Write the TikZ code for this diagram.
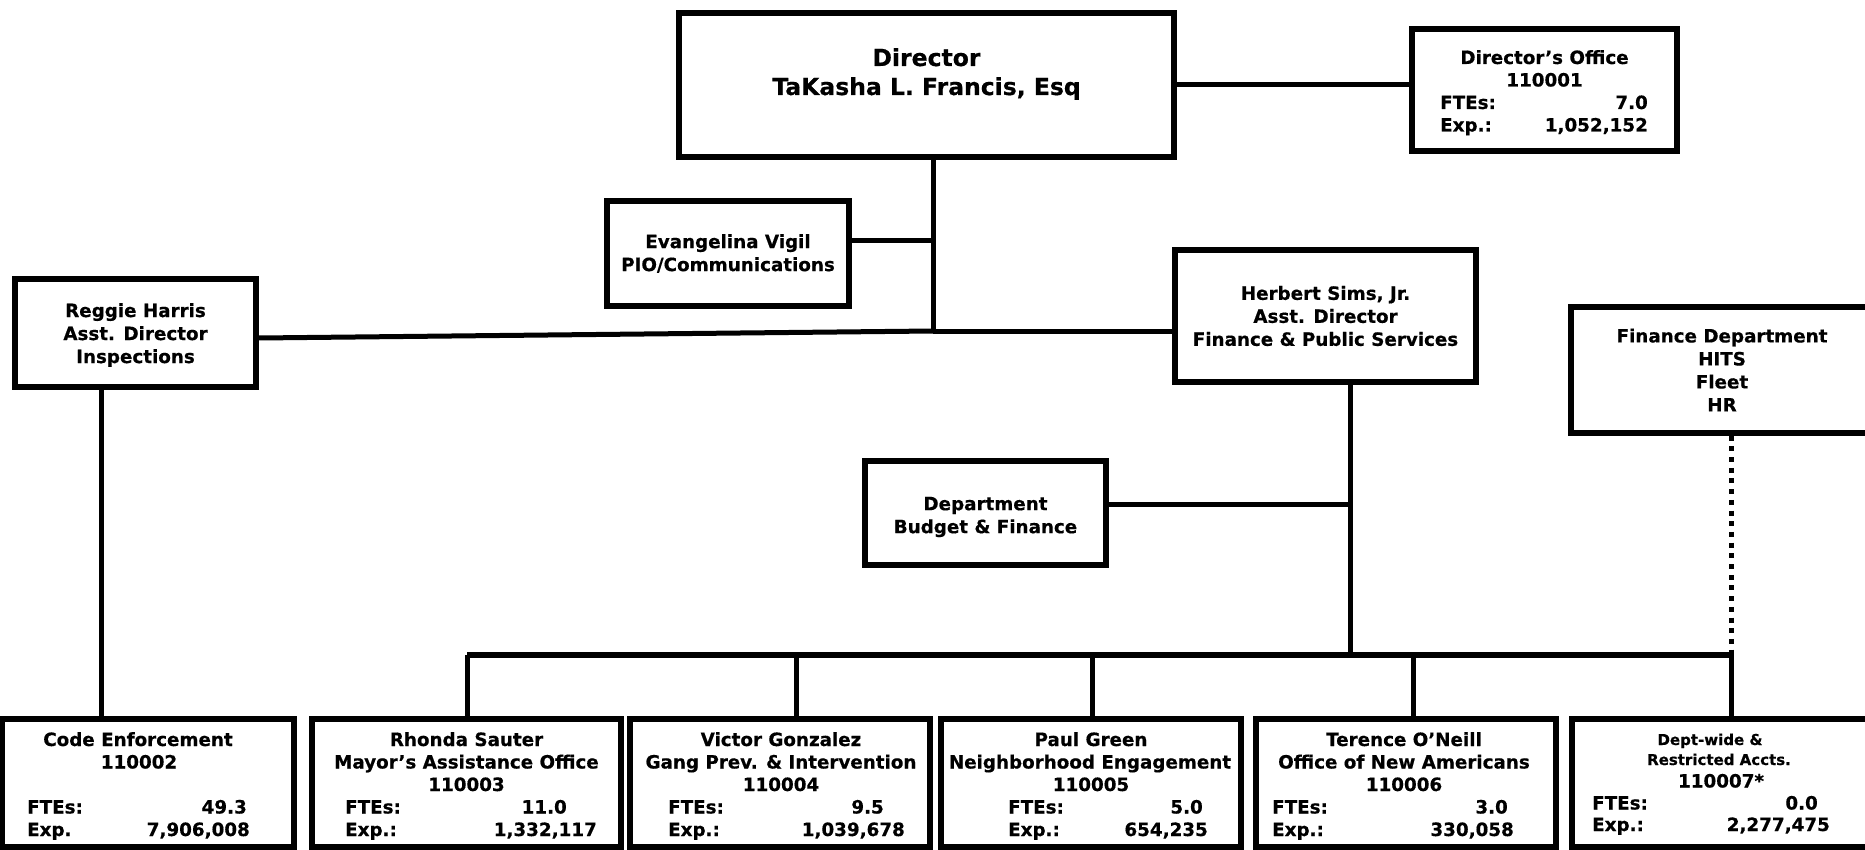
\documentclass[tikz,border=0pt]{standalone}
\usepackage{fontspec}
\setmainfont{DejaVu Sans}[BoldFeatures={FakeBold=0.5}]
\newcommand\orgfont{\fontsize{18.3}{23}\selectfont\bfseries}
\newcommand\orgsmall{\fontsize{15}{19}\selectfont\bfseries}
\newcommand\orgbig{\fontsize{23.5}{30}\selectfont\bfseries}
\tikzset{
  box/.style={draw, line width=5.8pt, inner sep=0pt, align=center, font=\orgfont},
  ln/.style={line width=5pt},
  bus/.style={line width=6.5pt},
  dots/.style={line width=5pt, dash pattern=on 5pt off 5.7pt},
  txt/.style={inner sep=0pt, anchor=base, font=\orgfont},
  lbl/.style={inner sep=0pt, anchor=base west, font=\orgfont},
  val/.style={inner sep=0pt, anchor=base east, font=\orgfont},
}
\begin{document}
\begin{tikzpicture}[x=1pt,y=-1pt]
\useasboundingbox (0,0) rectangle (1865,850);
% top boxes
\node[box, minimum width=495pt, minimum height=144pt] (dir) at (926.5,85) {};
\node[txt, font=\orgbig] (dirt1) at (926.5,66) {Director};
\node[txt, font=\orgbig] (dirt2) at (926.5,95) {TaKasha L. Francis, Esq};
\node[box, minimum width=265pt, minimum height=122pt] (office) at (1544.5,90) {};
\node[txt] (offt1) at (1544.5,64) {Director’s Office};
\node[txt] (offt2) at (1544.5,86.5) {110001};
\node[lbl] (offl1) at (1440,109) {FTEs:};
\node[val] (offv1) at (1648,109) {7.0};
\node[lbl] (offl2) at (1440,131.5) {Exp.:};
\node[val] (offv2) at (1648,131.5) {1,052,152};
\node[box, minimum width=242pt, minimum height=105pt] (evang) at (728,253.5) {Evangelina Vigil\\PIO/Communications};
\node[box, minimum width=241pt, minimum height=108pt] (reggie) at (135.5,333) {};
\node[inner sep=0pt, align=center, font=\orgfont] (reggiet) at (135.5,335) {Reggie Harris\\Asst. Director\\Inspections};
\node[box, minimum width=301pt, minimum height=132pt] (herbert) at (1325.5,316) {Herbert Sims, Jr.\\Asst. Director\\Finance \& Public Services};
\node[box, minimum width=302pt, minimum height=125.5pt] (findept) at (1722,370) {Finance Department\\HITS\\Fleet\\HR};
\node[box, minimum width=241pt, minimum height=104pt] (budget) at (985.5,513) {};
\node[inner sep=0pt, align=center, font=\orgfont] (budgett) at (985.5,517) {Department\\Budget \& Finance};
% bottom boxes
\node[box, minimum width=292pt, minimum height=128pt] (code) at (148,783) {};
\node[txt] (codet1) at (138,746) {Code Enforcement};
\node[txt] (codet2) at (139,768.5) {110002};
\node[lbl] (codel1) at (27,813.5) {FTEs:};
\node[val] (codev1) at (247,813.5) {49.3};
\node[lbl] (codel2) at (27,836) {Exp.};
\node[val] (codev2) at (250,836) {7,906,008};
\node[box, minimum width=309pt, minimum height=128pt] (rhonda) at (466.5,783) {};
\node[txt] (rhot1) at (466.5,746) {Rhonda Sauter};
\node[txt] (rhot2) at (466.5,768.5) {Mayor’s Assistance Office};
\node[txt] (rhot3) at (466.5,791) {110003};
\node[lbl] (rhol1) at (345,813.5) {FTEs:};
\node[val] (rhov1) at (567,813.5) {11.0};
\node[lbl] (rhol2) at (345,836) {Exp.:};
\node[val] (rhov2) at (597,836) {1,332,117};
\node[box, minimum width=300pt, minimum height=128pt] (victor) at (780,783) {};
\node[txt] (vict1) at (781,746) {Victor Gonzalez};
\node[txt] (vict2) at (781,768.5) {Gang Prev. \& Intervention};
\node[txt] (vict3) at (781,791) {110004};
\node[lbl] (vicl1) at (668,813.5) {FTEs:};
\node[val] (vicv1) at (884,813.5) {9.5};
\node[lbl] (vicl2) at (668,836) {Exp.:};
\node[val] (vicv2) at (905,836) {1,039,678};
\node[box, minimum width=300pt, minimum height=128pt] (paul) at (1091,783) {};
\node[txt] (pault1) at (1091,746) {Paul Green};
\node[txt] (pault2) at (1090,768.5) {Neighborhood Engagement};
\node[txt] (pault3) at (1091,791) {110005};
\node[lbl] (paull1) at (1008,813.5) {FTEs:};
\node[val] (paulv1) at (1203,813.5) {5.0};
\node[lbl] (paull2) at (1008,836) {Exp.:};
\node[val] (paulv2) at (1208,836) {654,235};
\node[box, minimum width=300pt, minimum height=128pt] (terence) at (1406,783) {};
\node[txt] (tert1) at (1404,746) {Terence O’Neill};
\node[txt] (tert2) at (1404,768.5) {Office of New Americans};
\node[txt] (tert3) at (1404,791) {110006};
\node[lbl] (terl1) at (1272,813.5) {FTEs:};
\node[val] (terv1) at (1508,813.5) {3.0};
\node[lbl] (terl2) at (1272,836) {Exp.:};
\node[val] (terv2) at (1514,836) {330,058};
\node[box, minimum width=298pt, minimum height=128pt] (deptwide) at (1721,783) {};
\node[txt, font=\orgsmall] (dwt1) at (1710,745) {Dept-wide \&};
\node[txt, font=\orgsmall] (dwt2) at (1719,765) {Restricted Accts.};
\node[txt] (dwt3) at (1721,787.5) {110007*};
\node[lbl] (dwl1) at (1592,809.5) {FTEs:};
\node[val] (dwv1) at (1818,809.5) {0.0};
\node[lbl] (dwl2) at (1592,831) {Exp.:};
\node[val] (dwv2) at (1830,831) {2,277,475};
% connectors
\coordinate (j1) at (933,331);
\coordinate (jE) at (933,241);
\coordinate (xR) at (101,500);
\coordinate (jH) at (1350,655);
\coordinate (jB) at (1350,504);
\coordinate (b1) at (467,655);
\coordinate (b2) at (796,655);
\coordinate (b3) at (1092,655);
\coordinate (b4) at (1413,655);
\coordinate (b5) at (1731,655);
\draw[ln] (dir.east) -- (dir.east -| office.west);
\draw[ln] (dir.south -| j1) -- (j1);
\draw[ln] (evang.east |- jE) -- (jE);
\draw[ln] ([yshift=-5pt]reggie.east) -- (j1);
\draw[ln] (j1) -- (j1 -| herbert.west);
\draw[ln] (reggie.south -| xR) -- (code.north -| xR);
\draw[ln] (herbert.south -| jH) -- (jH);
\draw[ln] (budget.east |- jB) -- (jB);
\draw[bus] (b1) -- (b5);
\draw[ln] (b1) -- (rhonda.north -| b1);
\draw[ln] (b2) -- (victor.north -| b2);
\draw[ln] (b3) -- (paul.north -| b3);
\draw[ln] (b4) -- (terence.north -| b4);
\draw[ln] (b5) -- (deptwide.north -| b5);
\draw[dots] (findept.south -| b5) -- (b5);
\end{tikzpicture}
\end{document}
